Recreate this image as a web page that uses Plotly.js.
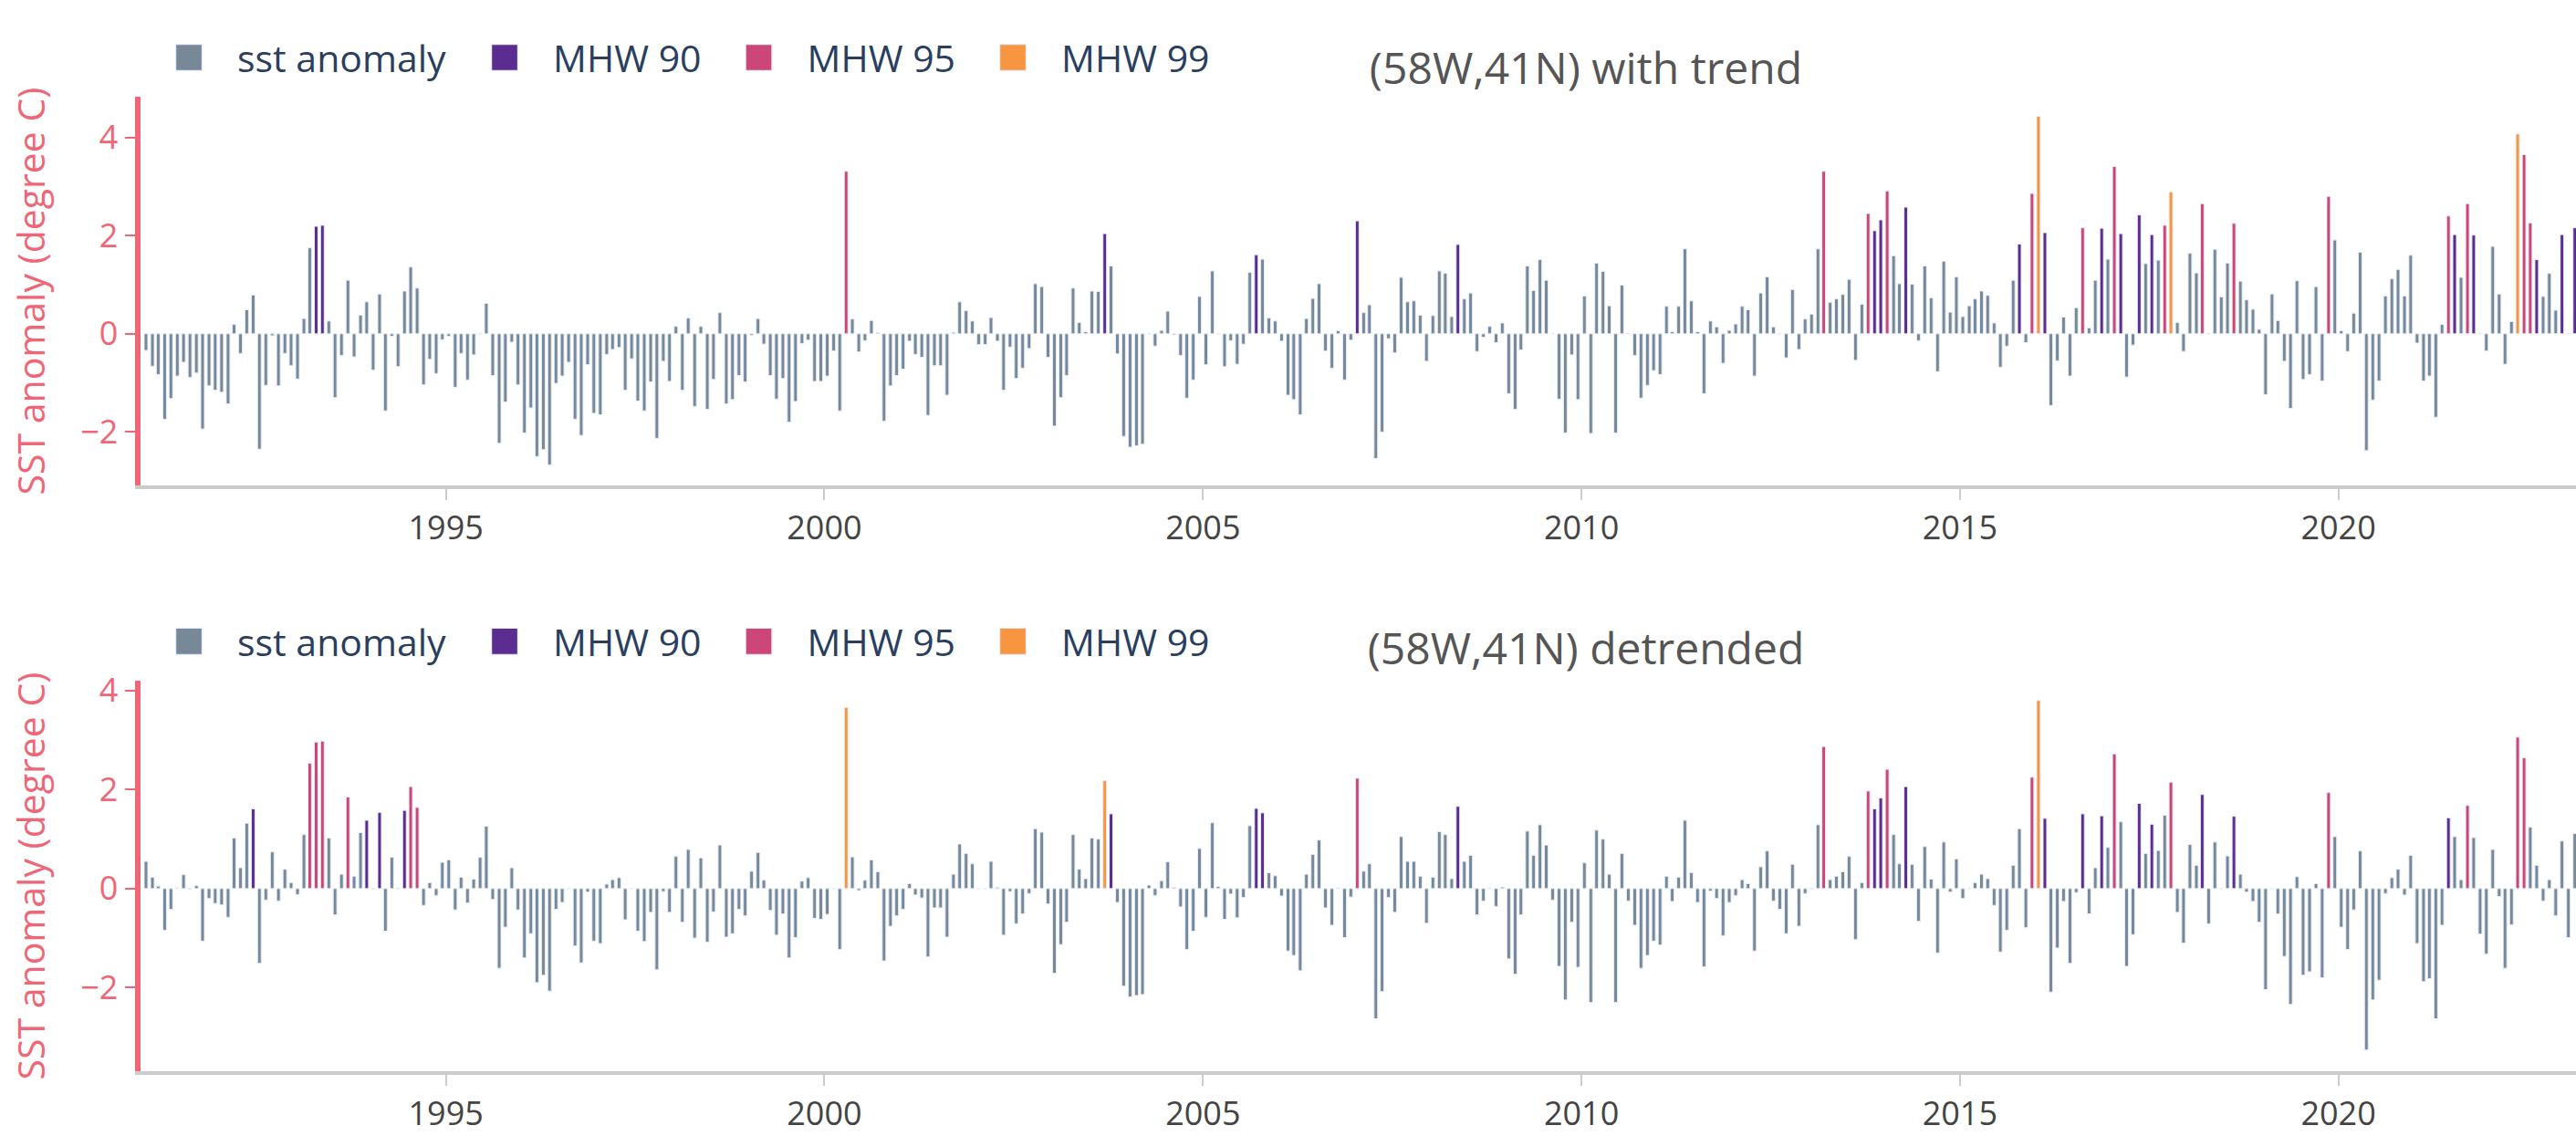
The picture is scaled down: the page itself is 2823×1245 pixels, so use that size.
<!DOCTYPE html>
<html>
<head>
<meta charset="utf-8">
<script src="https://cdn.plot.ly/plotly-3.0.1.min.js"></script>
<style>
  html { margin: 0; padding: 0; overflow: hidden; background: #ffffff; }
  body { margin: 0; padding: 0; width: 2823px; height: 1245px; background: #ffffff; }
  #wrap { width: 1411.5px; height: 622.5px; transform: scale(2); transform-origin: 0 0; }
  #topChart, #bottomChart { width: 1411.5px; }
</style>
</head>
<body>
<div id="wrap">
  <div id="topChart"></div>
  <div id="bottomChart"></div>
</div>
<script>
// ---------------- DATA ----------------
// Monthly series starting January 1991 (one value per month)
const startYear = 1991;
const startMonth = 1;

const seriesNames = ['sst anomaly', 'MHW 90', 'MHW 95', 'MHW 99'];

// SST anomaly with trend (degree C)
const trendValues = [
  -0.34, -0.66, -0.83, -1.74, -1.32, -0.86, -0.58, -0.89, -0.80, -1.94, -1.06, -1.15,
  -1.19, -1.43, 0.19, -0.40, 0.49, 0.79, -2.35, -1.05, -0.04, -1.06, -0.40, -0.65,
  -0.92, 0.31, 1.75, 2.19, 2.21, 0.26, -1.30, -0.44, 1.09, -0.47, 0.38, 0.65,
  -0.74, 0.81, -1.57, -0.05, -0.67, 0.87, 1.36, 0.93, -1.04, -0.52, -0.81, -0.12,
  -0.05, -1.09, -0.40, -0.94, -0.43, 0.01, 0.62, -0.85, -2.23, -1.39, -0.17, -1.04,
  -2.02, -1.51, -2.50, -2.36, -2.67, -1.01, -0.86, -0.58, -1.74, -2.07, -0.63, -1.62,
  -1.65, -0.42, -0.32, -0.28, -1.15, -0.51, -1.37, -1.57, -0.98, -2.13, -0.56, -0.97,
  0.15, -1.15, 0.32, -1.48, 0.15, -1.54, -0.93, 0.43, -1.43, -1.34, -0.85, -0.98,
  -0.03, 0.31, -0.21, -0.85, -1.33, -0.91, -1.80, -1.38, -0.20, -0.13, -0.97, -0.97,
  -0.86, -0.35, -1.57, 3.31, 0.30, -0.37, -0.14, 0.27, 0.02, -1.78, -1.06, -0.85,
  -0.72, -0.15, -0.42, -0.48, -1.66, -0.65, -0.65, -1.25, 0.03, 0.65, 0.47, 0.26,
  -0.22, -0.22, 0.33, -0.15, -1.15, -0.27, -0.91, -0.70, -0.30, 1.02, 0.96, -0.48,
  -1.88, -1.30, -0.85, 0.93, 0.23, 0.04, 0.87, 0.86, 2.04, 1.38, -0.41, -2.09,
  -2.31, -2.28, -2.25, 0.00, -0.25, 0.07, 0.46, -0.02, -0.44, -1.31, -0.94, 0.76,
  -0.63, 1.28, 0.01, -0.67, -0.14, -0.62, -0.21, 1.25, 1.61, 1.52, 0.32, 0.26,
  -0.15, -1.25, -1.34, -1.65, 0.31, 0.72, 1.02, -0.35, -0.70, 0.06, -0.94, -0.13,
  2.30, 0.43, 0.59, -2.54, -2.00, -0.10, -0.39, 1.15, 0.65, 0.67, 0.38, -0.56,
  0.37, 1.28, 1.23, 0.35, 1.82, 0.71, 0.83, -0.36, -0.07, 0.15, -0.18, 0.22,
  -1.22, -1.54, -0.33, 1.38, 0.88, 1.51, 1.09, 0.00, -1.33, -2.02, -0.43, -1.34,
  0.77, -2.03, 1.44, 1.27, 0.57, -2.02, 0.99, 0.01, -0.44, -1.31, -1.05, -0.75,
  -0.83, 0.56, 0.04, 0.56, 1.73, 0.67, 0.04, -1.22, 0.26, 0.14, -0.60, 0.07,
  0.20, 0.56, 0.49, -0.86, 0.83, 1.16, 0.14, 0.00, -0.49, 0.90, -0.32, 0.30,
  0.40, 1.73, 3.31, 0.64, 0.71, 0.80, 1.11, -0.54, 0.60, 2.45, 2.10, 2.32,
  2.91, 1.59, 1.02, 2.58, 1.01, -0.14, 1.38, 0.73, -0.77, 1.48, 0.44, 1.16,
  0.35, 0.57, 0.71, 0.87, 0.78, 0.22, -0.68, -0.25, 1.09, 1.83, -0.18, 2.86,
  4.43, 2.06, -1.46, -0.55, 0.34, -0.86, 0.53, 2.16, 0.12, 1.09, 2.15, 1.52,
  3.41, 2.04, -0.88, -0.23, 2.42, 1.43, 2.02, 1.50, 2.21, 2.89, 0.23, -0.36,
  1.64, 1.24, 2.65, 0.01, 1.72, 0.75, 1.44, 2.25, 1.07, 0.69, 0.50, 0.09,
  -1.24, 0.81, 0.27, -0.56, -1.52, 1.08, -0.93, -0.83, 0.96, -0.96, 2.80, 1.91,
  0.06, -0.36, 0.42, 1.66, -2.38, -1.35, -0.96, 0.77, 1.12, 1.31, 0.77, 1.60,
  -0.19, -0.96, -0.86, -1.70, 0.19, 2.40, 2.02, 1.15, 2.65, 2.01, 0.01, -0.35,
  1.78, 0.81, -0.62, 0.25, 4.07, 3.65, 2.26, 1.51, 0.76, 1.23, 0.48, 2.02,
  0.01, 2.16
];

// Months flagged as marine heat waves (with trend)
const trendMHW90 = ['1993-04', '1993-05', '2003-09', '2005-09', '2007-01', '2008-05', '2013-11', '2013-12',
  '2014-04', '2015-10', '2016-02', '2016-11', '2017-02', '2017-05', '2017-07', '2021-07', '2021-10',
  '2022-08', '2022-12', '2023-02'];
const trendMHW95 = ['2000-04', '2013-03', '2013-10', '2014-01', '2015-12', '2016-08', '2017-01', '2017-09',
  '2018-03', '2018-08', '2019-11', '2021-06', '2021-09', '2022-06', '2022-07'];
const trendMHW99 = ['2016-01', '2017-10', '2022-05'];

// SST anomaly detrended (degree C)
const detrendValues = [
  0.55, 0.23, 0.05, -0.84, -0.42, 0.01, 0.28, -0.01, 0.06, -1.06, -0.20, -0.30,
  -0.33, -0.58, 1.02, 0.42, 1.32, 1.61, -1.51, -0.23, 0.74, -0.25, 0.39, 0.12,
  -0.12, 1.09, 2.53, 2.96, 2.98, 1.02, -0.53, 0.29, 1.85, 0.25, 1.13, 1.38,
  -0.01, 1.54, -0.86, 0.63, 0.01, 1.58, 2.06, 1.64, -0.34, 0.12, -0.14, 0.53,
  0.58, -0.43, 0.23, -0.29, 0.19, 0.63, 1.26, -0.22, -1.61, -0.78, 0.42, -0.43,
  -1.40, -0.91, -1.90, -1.75, -2.07, -0.42, -0.28, 0.00, -1.16, -1.50, -0.07, -1.06,
  -1.11, 0.09, 0.18, 0.22, -0.63, 0.00, -0.86, -1.07, -0.48, -1.64, -0.06, -0.48,
  0.65, -0.68, 0.79, -1.00, 0.62, -1.08, -0.47, 0.88, -0.98, -0.91, -0.42, -0.55,
  0.35, 0.73, 0.17, -0.44, -0.94, -0.51, -1.40, -0.99, 0.15, 0.22, -0.60, -0.62,
  -0.52, 0.00, -1.23, 3.66, 0.64, -0.04, 0.17, 0.58, 0.34, -1.46, -0.76, -0.55,
  -0.42, 0.10, -0.13, -0.19, -1.38, -0.39, -0.39, -0.98, 0.29, 0.90, 0.71, 0.50,
  0.00, 0.00, 0.55, 0.02, -0.94, -0.06, -0.71, -0.51, -0.10, 1.21, 1.14, -0.31,
  -1.71, -1.13, -0.68, 1.09, 0.39, 0.20, 1.02, 1.00, 2.18, 1.51, -0.28, -1.97,
  -2.19, -2.16, -2.14, 0.07, -0.14, 0.16, 0.54, 0.02, -0.37, -1.23, -0.86, 0.81,
  -0.58, 1.33, 0.04, -0.62, -0.11, -0.59, -0.18, 1.27, 1.62, 1.53, 0.32, 0.26,
  -0.15, -1.26, -1.35, -1.66, 0.29, 0.69, 0.98, -0.39, -0.74, 0.01, -0.99, -0.17,
  2.23, 0.35, 0.50, -2.63, -2.08, -0.18, -0.48, 1.05, 0.55, 0.55, 0.25, -0.70,
  0.23, 1.15, 1.09, 0.20, 1.66, 0.55, 0.67, -0.53, -0.25, 0.01, -0.36, 0.03,
  -1.42, -1.73, -0.53, 1.16, 0.67, 1.29, 0.88, -0.23, -1.57, -2.25, -0.68, -1.59,
  0.52, -2.30, 1.18, 1.00, 0.29, -2.30, 0.71, -0.25, -0.74, -1.61, -1.35, -1.06,
  -1.14, 0.25, -0.26, 0.23, 1.38, 0.32, -0.28, -1.58, -0.05, -0.20, -0.95, -0.28,
  -0.14, 0.18, 0.10, -1.26, 0.44, 0.76, -0.25, -0.42, -0.91, 0.49, -0.76, -0.10,
  -0.01, 1.29, 2.87, 0.18, 0.25, 0.34, 0.65, -1.03, 0.12, 1.97, 1.61, 1.83,
  2.41, 1.09, 0.50, 2.06, 0.49, -0.66, 0.85, 0.19, -1.30, 0.94, -0.07, 0.60,
  -0.20, 0.01, 0.12, 0.29, 0.20, -0.34, -1.28, -0.84, 0.47, 1.21, -0.79, 2.25,
  3.80, 1.42, -2.09, -1.20, -0.26, -1.51, -0.08, 1.51, -0.51, 0.42, 1.47, 0.83,
  2.72, 1.35, -1.57, -0.93, 1.72, 0.71, 1.30, 0.77, 1.48, 2.15, -0.48, -1.10,
  0.89, 0.47, 1.90, -0.71, 0.94, 0.00, 0.66, 1.46, 0.29, -0.07, -0.26, -0.68,
  -2.04, 0.00, -0.51, -1.37, -2.34, 0.24, -1.75, -1.68, 0.10, -1.80, 1.94, 1.05,
  -0.78, -1.23, -0.43, 0.76, -3.26, -2.25, -1.85, -0.10, 0.22, 0.39, -0.13, 0.67,
  -1.11, -1.88, -1.82, -2.63, -0.74, 1.43, 1.05, 0.18, 1.68, 1.03, -0.92, -1.32,
  0.79, -0.16, -1.61, -0.73, 3.06, 2.64, 1.24, 0.47, -0.25, 0.18, -0.55, 0.96,
  -0.99, 1.11
];

// Months flagged as marine heat waves (detrended)
const detrendMHW90 = ['1992-06', '1993-12', '1994-02', '1994-06', '2003-10', '2005-09', '2005-10', '2008-05',
  '2013-11', '2013-12', '2014-04', '2016-02', '2016-08', '2016-11', '2017-05', '2017-07', '2018-03',
  '2018-08', '2021-06'];
const detrendMHW95 = ['1993-03', '1993-04', '1993-05', '1993-09', '1994-07', '1994-08', '2007-01', '2013-03',
  '2013-10', '2014-01', '2015-12', '2017-01', '2017-10', '2019-11', '2021-09', '2022-05', '2022-06'];
const detrendMHW99 = ['2000-04', '2003-09', '2016-01'];

// Axis / chart titles
const yTitle = 'SST anomaly (degree C)';
const topTitle = '(58W,41N) with trend';
const bottomTitle = '(58W,41N) detrended';

// ---------------- STYLE ----------------
const barColors = ['#778899', '#5c2d91', '#cc4778', '#f89540'];
const axisRed = '#ef6677';
const barWidthMs = 17.5 * 24 * 3600 * 1000;

function monthKey(i) {
  const t = startMonth - 1 + i;
  const y = startYear + Math.floor(t / 12);
  const m = (t % 12) + 1;
  return y + '-' + String(m).padStart(2, '0');
}

function buildTraces(values, m90, m95, m99) {
  const keys = values.map((v, i) => monthKey(i));
  const cls = {};
  m90.forEach(k => cls[k] = 1);
  m95.forEach(k => cls[k] = 2);
  m99.forEach(k => cls[k] = 3);
  const groups = [[], [], [], []];
  keys.forEach((k, i) => groups[cls[k] || 0].push(i));
  return groups.map((idx, g) => ({
    type: 'bar',
    name: seriesNames[g],
    x: idx.map(i => keys[i] + '-15'),
    y: idx.map(i => values[i]),
    width: barWidthMs,
    marker: { color: barColors[g], line: { color: '#E5ECF6', width: 0.5 } },
    hoverinfo: 'x+y+name'
  }));
}

function buildLayout(title, yRange, height, margin, legendY, titleY) {
  return {
    width: 1411.5,
    height: height,
    margin: margin,
    paper_bgcolor: '#ffffff',
    plot_bgcolor: '#ffffff',
    font: { family: '"Open Sans", verdana, arial, sans-serif', size: 20, color: '#2a3f5f' },
    barmode: 'overlay',
    showlegend: true,
    legend: {
      orientation: 'h', x: 0, xanchor: 'left', y: legendY, yanchor: 'middle',
      itemwidth: 43,
      font: { size: 20.5, color: '#2a3f5f' }, bgcolor: 'rgba(0,0,0,0)'
    },
    title: {
      text: title, x: 869 / 1411.5, xref: 'container', xanchor: 'center',
      y: titleY, yref: 'container', yanchor: 'middle',
      font: { size: 24, color: '#555555' }
    },
    xaxis: {
      type: 'date',
      range: ['1990-12-19 14:00', '2023-02-25'],
      showgrid: false, zeroline: false,
      showline: true, linecolor: '#cccccc', linewidth: 2,
      ticks: 'outside', tickcolor: '#cccccc', ticklen: 6, tickwidth: 1,
      tick0: '1995-01-01', dtick: 'M60', tickformat: '%Y',
      tickfont: { size: 18, color: '#444444' }
    },
    yaxis: {
      range: yRange,
      showgrid: false, zeroline: false,
      showline: true, linecolor: axisRed, linewidth: 2.5,
      ticks: 'outside', tickcolor: axisRed, ticklen: 6, tickwidth: 1,
      dtick: 2,
      tickfont: { size: 18, color: axisRed },
      title: { text: yTitle, font: { size: 20.5, color: axisRed } }
    }
  };
}

const cfg = { displayModeBar: false, responsive: false };

// slightly larger legend swatches, as in the reference (keep plotly's own placement)
function enlargeLegendSwatches(divId) {
  document.querySelectorAll('#' + divId + ' .legendpoints path').forEach(p => {
    const t = p.getAttribute('transform') || '';
    p.setAttribute('transform', (t + ' scale(1.2)').trim());
  });
}

Plotly.newPlot('topChart',
  buildTraces(trendValues, trendMHW90, trendMHW95, trendMHW99),
  buildLayout(topTitle, [-3.09, 4.83], 311, { l: 77.25, r: 0, t: 52.5, b: 44.5 }, 1.10, 1 - 37.8 / 311),
  cfg).then(() => enlargeLegendSwatches('topChart'));

Plotly.newPlot('bottomChart',
  buildTraces(detrendValues, detrendMHW90, detrendMHW95, detrendMHW99),
  buildLayout(bottomTitle, [-3.69, 4.20], 311.5, { l: 77.25, r: 0, t: 61.5, b: 36 }, 1.10, 1 - 44.5 / 311.5),
  cfg).then(() => enlargeLegendSwatches('bottomChart'));
</script>
</body>
</html>
